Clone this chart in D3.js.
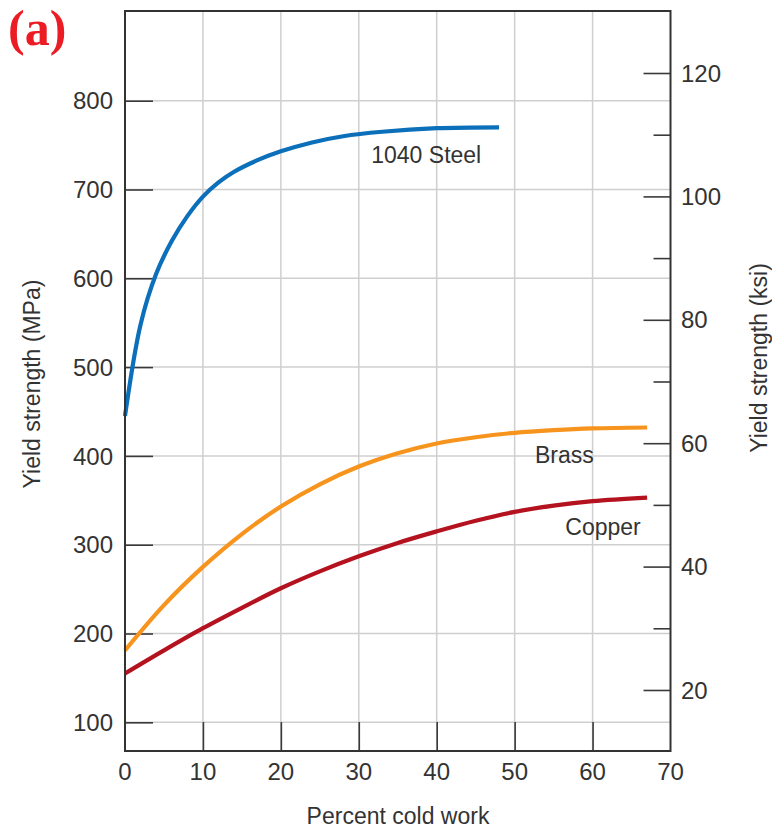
<!DOCTYPE html>
<html>
<head>
<meta charset="utf-8">
<script src="https://cdn.jsdelivr.net/npm/d3@7"></script>
<style>
  html, body { margin: 0; padding: 0; background: #fff; }
  svg { display: block; }
  text.sans { font-family: "Liberation Sans", Arial, Helvetica, sans-serif; fill: #333; }
</style>
</head>
<body>
<svg id="chart" width="772" height="828"></svg>
<script>
// Yield strength vs. percent cold work for three alloys
const steelWork  = [0, 2, 4, 6, 8, 10, 12, 14, 17, 20, 24, 28, 33, 40, 48];
const steelMPa   = [445, 548, 605, 642, 670, 692, 708, 720, 733, 743, 753, 760, 765, 769, 770];
const brassWork  = [0, 5, 10, 15, 20, 25, 30, 35, 40, 45, 50, 55, 60, 67];
const brassMPa   = [181, 232, 275, 312, 343, 368, 388, 403, 414, 421, 426, 429, 431, 432];
const copperWork = [0, 5, 10, 15, 20, 25, 30, 35, 40, 45, 50, 55, 60, 67];
const copperMPa  = [155, 181, 206, 229, 251, 270, 287, 302, 315, 327, 337, 344, 349, 353];

const seriesNames  = ["1040 Steel", "Brass", "Copper"];
const seriesColors = ["#0b6fba", "#f7941d", "#b4121f"];

const xTicks   = [0, 10, 20, 30, 40, 50, 60, 70];
const mpaTicks = [100, 200, 300, 400, 500, 600, 700, 800];
const ksiMajor = [20, 40, 60, 80, 100, 120];
const ksiMinor = [30, 50, 70, 90, 110];

const svg = d3.select("#chart");
const L = 125, R = 670.5, T = 11, B = 751;

const x   = d3.scaleLinear().domain([0, 70]).range([L, R]);
const y   = d3.scaleLinear().domain([67.7, 901]).range([B, T]);
const ksi = d3.scaleLinear().domain([10.11, 130.05]).range([B, T]);

// grid
const grid = svg.append("g").attr("stroke", "#cfcfcf").attr("stroke-width", 1.5);
grid.selectAll("line.h").data(mpaTicks).join("line")
  .attr("x1", L).attr("x2", R).attr("y1", d => y(d)).attr("y2", d => y(d));
grid.selectAll("line.v").data(xTicks.slice(1, -1)).join("line")
  .attr("x1", d => x(d)).attr("x2", d => x(d)).attr("y1", T).attr("y2", B);

// inward ticks
const leftAxis = svg.append("g").attr("transform", `translate(${L},0)`)
  .call(d3.axisRight(y).tickValues(mpaTicks).tickSize(28).tickFormat(""));
const bottomAxis = svg.append("g").attr("transform", `translate(0,${B})`)
  .call(d3.axisTop(x).tickValues(xTicks.slice(1, -1)).tickSize(29).tickFormat(""));
const rightMajor = svg.append("g").attr("transform", `translate(${R},0)`)
  .call(d3.axisLeft(ksi).tickValues(ksiMajor).tickSize(27).tickFormat(""));
const rightMinor = svg.append("g").attr("transform", `translate(${R},0)`)
  .call(d3.axisLeft(ksi).tickValues(ksiMinor).tickSize(17).tickFormat(""));
[leftAxis, bottomAxis, rightMajor, rightMinor].forEach(g => {
  g.select(".domain").remove();
  g.selectAll(".tick line").attr("stroke", "#3a3a3a").attr("stroke-width", 1.6);
});

// tick labels
svg.append("g").selectAll("text").data(mpaTicks).join("text").attr("class", "sans")
  .attr("x", 113).attr("y", d => y(d)).attr("dy", "0.36em")
  .attr("text-anchor", "end").attr("font-size", 24).text(d => d);
svg.append("g").selectAll("text").data(xTicks).join("text").attr("class", "sans")
  .attr("x", d => x(d)).attr("y", 780)
  .attr("text-anchor", "middle").attr("font-size", 24).text(d => d);
svg.append("g").selectAll("text").data(ksiMajor).join("text").attr("class", "sans")
  .attr("x", 681).attr("y", d => ksi(d)).attr("dy", "0.36em")
  .attr("text-anchor", "start").attr("font-size", 24).text(d => d);

// curves
const line = d3.line().x(d => x(d[0])).y(d => y(d[1])).curve(d3.curveCatmullRom.alpha(0.5));
const series = [
  d3.zip(steelWork, steelMPa),
  d3.zip(brassWork, brassMPa),
  d3.zip(copperWork, copperMPa)
];
series.forEach((pts, i) => {
  svg.append("path").datum(pts)
    .attr("d", line).attr("fill", "none")
    .attr("stroke", seriesColors[i]).attr("stroke-width", 4.2);
});

// frame
svg.append("rect").attr("x", L).attr("y", T).attr("width", R - L).attr("height", B - T)
  .attr("fill", "none").attr("stroke", "#333").attr("stroke-width", 2);

// series labels
const labelPos = [[31.6, 162.5], [52.6, 462.5], [56.5, 535]];
seriesNames.forEach((n, i) => {
  svg.append("text").attr("class", "sans")
    .attr("x", x(labelPos[i][0])).attr("y", labelPos[i][1])
    .attr("font-size", 23).text(n);
});

// axis titles
svg.append("text").attr("class", "sans").attr("x", 398).attr("y", 824)
  .attr("text-anchor", "middle").attr("font-size", 23).text("Percent cold work");
svg.append("text").attr("class", "sans").attr("transform", "translate(40,384) rotate(-90)")
  .attr("text-anchor", "middle").attr("font-size", 23).text("Yield strength (MPa)");
svg.append("text").attr("class", "sans").attr("transform", "translate(767,358) rotate(-90)")
  .attr("text-anchor", "middle").attr("font-size", 23).text("Yield strength (ksi)");

// panel tag
svg.append("text").attr("x", 8).attr("y", 45)
  .style("font-family", "'Liberation Serif', 'Times New Roman', serif")
  .style("font-weight", "bold").style("font-size", "50px")
  .style("fill", "#ec1c24").text("(a)");
</script>
</body>
</html>
